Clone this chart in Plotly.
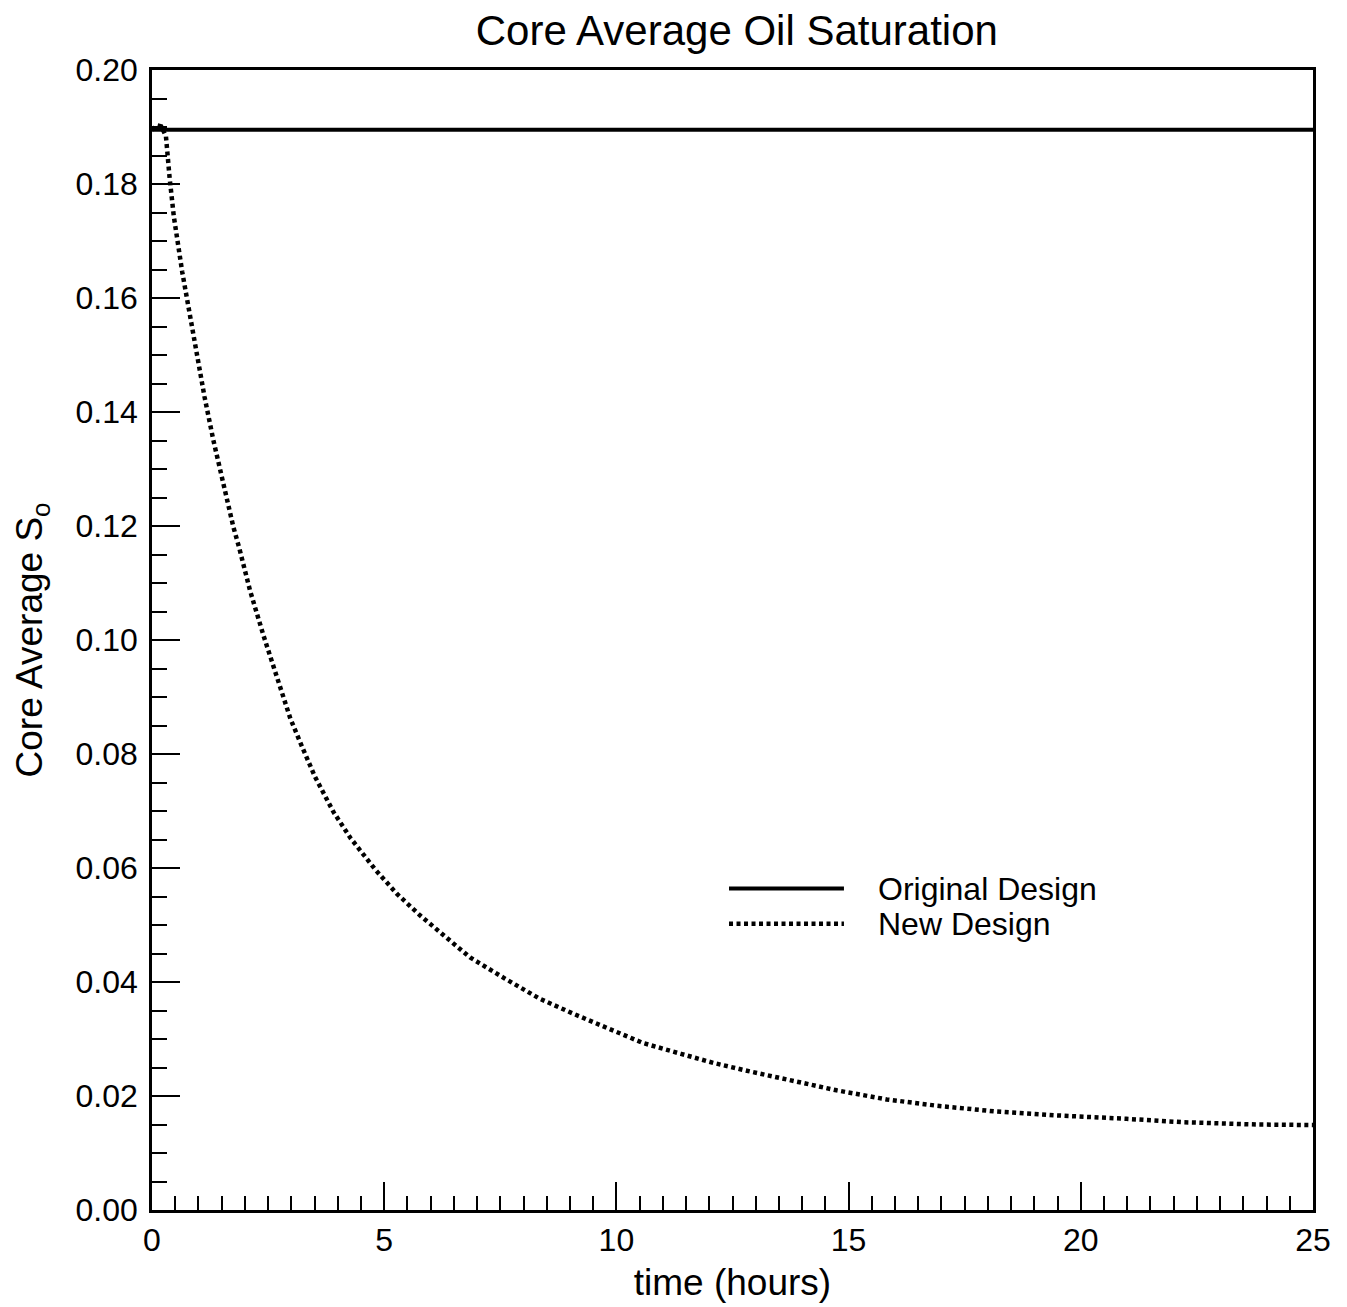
import plotly.graph_objects as go

# Core average oil saturation vs. time for the two core designs
time_original = [0.0, 0.3, 5.0, 10.0, 15.0, 20.0, 25.0]
so_original = [0.1895, 0.1895, 0.1895, 0.1895, 0.1895, 0.1895, 0.1895]

time_new = [0.0, 0.1, 0.2, 0.30, 0.38, 0.47, 0.65, 0.80, 0.96, 1.13, 1.32, 1.50,
            1.63, 1.75, 1.88, 2.11, 2.40, 2.71, 2.98, 3.24, 3.51, 3.91, 4.28,
            4.81, 5.27, 5.77, 6.31, 6.85, 7.60, 8.34, 9.11, 9.76, 10.57, 11.39,
            12.09, 12.88, 13.81, 14.74, 15.82, 16.89, 18.15, 19.47, 20.98,
            22.20, 23.78, 25.0]
so_new = [0.1895, 0.1903, 0.1901, 0.1884, 0.1810, 0.1743, 0.1646, 0.1576,
          0.1503, 0.1427, 0.1351, 0.1286, 0.1238, 0.1199, 0.1161, 0.1087,
          0.1008, 0.0929, 0.0862, 0.0811, 0.0760, 0.0698, 0.0652, 0.0597,
          0.0555, 0.0517, 0.0479, 0.0443, 0.0406, 0.0371, 0.0343, 0.0320,
          0.0293, 0.0274, 0.0258, 0.0243, 0.0226, 0.0210, 0.0194, 0.0183,
          0.0173, 0.0166, 0.0160, 0.0154, 0.0150, 0.0149]

x_ticks = [0, 5, 10, 15, 20, 25]
y_ticks = [0.00, 0.02, 0.04, 0.06, 0.08, 0.10, 0.12, 0.14, 0.16, 0.18, 0.20]
series_names = ["Original Design", "New Design"]

FONT = "Liberation Sans, Arial, Helvetica, sans-serif"
DOTS = "4px,3.5px"

fig = go.Figure()
fig.add_trace(go.Scatter(x=time_original, y=so_original, mode="lines",
                         name=series_names[0], showlegend=False,
                         line=dict(color="black", width=4)))
fig.add_trace(go.Scatter(x=time_new, y=so_new, mode="lines",
                         name=series_names[1], showlegend=False,
                         line=dict(color="black", width=4.5, dash=DOTS)))

# hand-drawn key inside the plot area
key_x0, key_x1, key_tx = 0.497, 0.596, 0.624
key_rows = [(0.282, "solid", 4), (0.251, DOTS, 4.5)]
for (ky, dash, w), label in zip(key_rows, series_names):
    fig.add_shape(type="line", xref="paper", yref="paper",
                  x0=key_x0, x1=key_x1, y0=ky, y1=ky,
                  line=dict(color="black", width=w, dash=dash))
    fig.add_annotation(xref="paper", yref="paper", x=key_tx, y=ky,
                       text=label, showarrow=False, xanchor="left",
                       yanchor="middle",
                       font=dict(family=FONT, size=32, color="black"))

axis_common = dict(showline=True, linecolor="black", linewidth=2.5,
                   mirror=True, showgrid=False, zeroline=False,
                   ticks="inside", tickcolor="black", tickwidth=2,
                   ticklen=28,
                   tickfont=dict(family=FONT, size=32, color="black"))

fig.update_xaxes(range=[0, 25], tickvals=x_ticks,
                 ticktext=[str(v) for v in x_ticks],
                 minor=dict(dtick=0.5, ticks="inside", ticklen=14,
                            tickwidth=2, tickcolor="black", showgrid=False),
                 title=dict(text="time (hours)", standoff=12,
                            font=dict(family=FONT, size=37, color="black")),
                 **axis_common)
fig.update_yaxes(range=[0, 0.20], tickvals=y_ticks,
                 ticktext=[f"{v:.2f}" for v in y_ticks],
                 ticklabelstandoff=5,
                 minor=dict(dtick=0.005, ticks="inside", ticklen=15,
                            tickwidth=2, tickcolor="black", showgrid=False),
                 title=dict(text="Core Average S<sub>o</sub>", standoff=22,
                            font=dict(family=FONT, size=37, color="black")),
                 **axis_common)

fig.update_layout(
    width=1347, height=1307,
    margin=dict(l=152, r=34, t=70, b=97),
    paper_bgcolor="white", plot_bgcolor="white",
    title=dict(text="Core Average Oil Saturation", x=0.547, xanchor="center",
               y=0.977, yanchor="middle",
               font=dict(family=FONT, size=42, color="black")),
)

fig.write_html("out.html")
